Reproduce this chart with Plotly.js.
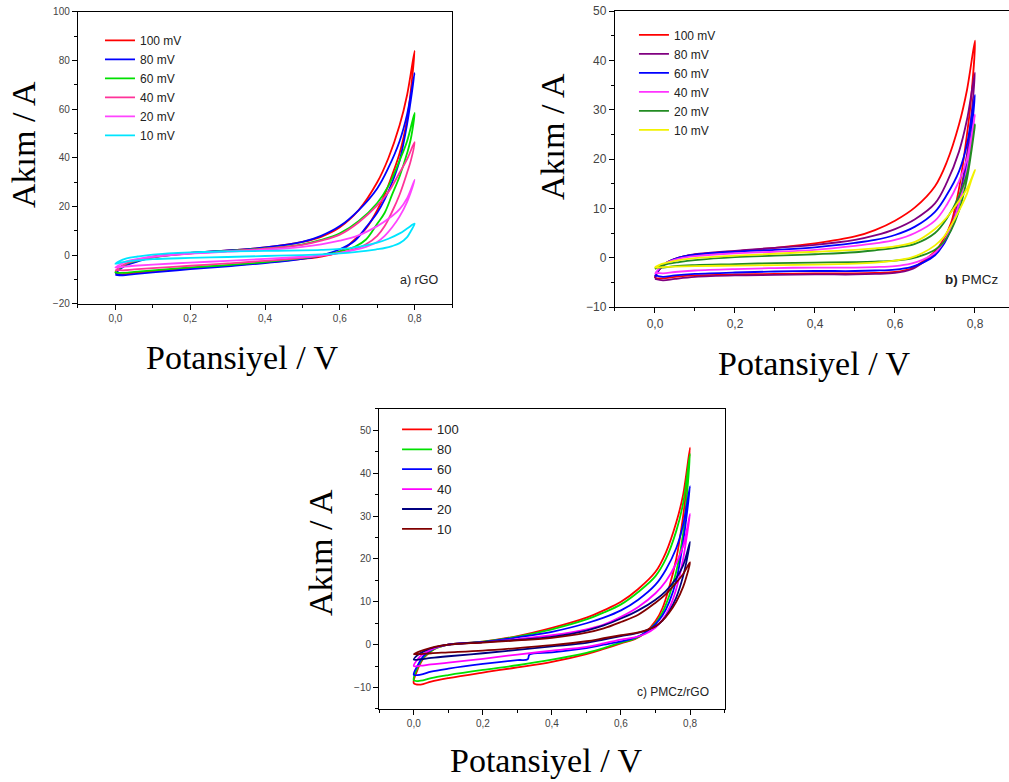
<!DOCTYPE html>
<html>
<head>
<meta charset="utf-8">
<script src="https://cdn.plot.ly/plotly-3.0.1.min.js"></script>
<style>html,body{margin:0;padding:0;background:#fff;}#chart{width:1009px;height:782px;}</style>
</head>
<body>
<div id="chart"></div>
<script>
// Potential grids (V): forward sweep and reverse sweep
const V_FWD = [0,0.01,0.03,0.06,0.1,0.2,0.3,0.4,0.5,0.55,0.6,0.65,0.7,0.73,0.76,0.78,0.8];
const V_REV = [0.79,0.78,0.76,0.74,0.72,0.7,0.67,0.64,0.6,0.55,0.5,0.4,0.3,0.2,0.1,0.05,0.02,0];
const V_REV_C60 = [0.79,0.78,0.76,0.74,0.72,0.7,0.67,0.64,0.6,0.55,0.5,0.4,0.335,0.33,0.3,0.2,0.1,0.05,0.02,0];

// Panel a) rGO
const A_LABELS = ['100 mV','80 mV','60 mV','40 mV','20 mV','10 mV'];
const A_FWD_100 = [-7,-5.5,-3.5,-2,-0.5,1.0,2.0,3.2,5.5,7.6,11.5,18.5,30,40,53.5,66,84];
const A_REV_100 = [68,56,42,33,25,18.5,11,6.5,1.5,-0.5,-1.5,-3,-4.2,-5.3,-6.5,-7.2,-7.8,-7.5];
const A_FWD_80 = [-7.5,-6,-4,-2.5,-0.8,1.0,2.0,3.2,5.5,8,12,18.5,27.5,36,47,58,75];
const A_REV_80 = [64,54,39,30,23,17.5,11.5,6,2.5,0,-1.5,-3.2,-4.5,-5.7,-7,-7.7,-8.2,-8];
const A_FWD_60 = [-7,-5.5,-3.5,-2.2,-0.8,0.8,1.8,2.8,4.5,6.3,9,14,21.5,28.5,39,47,58.5];
const A_REV_60 = [48,42,32.5,25,17.5,13,6.5,3.5,1.5,0,-1.2,-2.8,-4,-5,-6.2,-6.8,-7.2,-7];
const A_FWD_40 = [-6.5,-5,-3.3,-2,-0.8,0.7,1.7,2.7,4.3,6,8.5,13.5,20.5,26,34,39.5,46.5];
const A_REV_40 = [39,34,25,18,12,8,4.5,2.5,1,-0.2,-1,-2.3,-3.3,-4.3,-5.3,-5.8,-6.2,-6];
const A_FWD_20 = [-5,-4,-2.5,-1.5,-0.5,0.7,1.5,2.3,3.5,4.5,6,8.2,12,15,19,23.5,31];
const A_REV_20 = [26,22,16,11.5,8,5.5,3.5,2.2,1,0,-0.6,-1.5,-2.3,-3,-3.8,-4.3,-4.7,-5];
const A_FWD_10 = [-3.5,-2.5,-1.3,-0.5,0.3,1.2,1.6,1.8,2.0,2.2,2.6,3.5,5.2,6.8,9,11,13];
const A_REV_10 = [10,7.5,5,3.8,3,2.5,1.8,1.3,0.8,0.4,0.1,-0.3,-0.7,-1.1,-1.6,-2.2,-2.8,-3.5];
const A_COLORS = ['#ff0000','#0000ff','#00e000','#ff3399','#ff44ff','#00e5ff'];

// Panel b) PMCz
const B_LABELS = ['100 mV','80 mV','60 mV','40 mV','20 mV','10 mV'];
const B_FWD_100 = [-4,-2.5,-1,0,0.6,1.3,2.0,2.9,4.3,5.6,7.5,10.2,14.5,19.5,27,34,44];
const B_REV_100 = [32,25,14,7,3.5,1.3,-0.7,-2.2,-2.9,-3.1,-3.2,-3.2,-3.3,-3.4,-3.6,-3.9,-4.2,-4];
const B_FWD_80 = [-4.2,-2.5,-1,0,0.7,1.4,2.0,2.6,3.6,4.5,5.8,7.8,11,15.3,21.5,28,37.5];
const B_REV_80 = [28,21,12,6,2.8,0.8,-1,-2.4,-3.1,-3.3,-3.4,-3.4,-3.5,-3.6,-3.9,-4.3,-4.6,-4.3];
const B_FWD_60 = [-3.8,-2.4,-1,0,0.6,1.2,1.6,2.1,3.0,3.6,4.6,6.3,9.3,12.8,17.5,23,33];
const B_REV_60 = [25,19,11,5.8,2.5,0.5,-1,-1.9,-2.4,-2.6,-2.7,-2.7,-2.8,-3,-3.3,-3.6,-3.9,-3.6];
const B_FWD_40 = [-3.3,-2.2,-1,-0.2,0.3,0.9,1.2,1.6,2.4,2.9,3.6,5.0,7.5,10.8,15.5,20,29];
const B_REV_40 = [23,18,11,6,3,1,-0.4,-1.2,-1.7,-1.9,-2.0,-2.0,-2.1,-2.3,-2.6,-2.9,-3.2,-3];
const B_FWD_20 = [-2.3,-1.8,-1.3,-0.9,-0.5,0.1,0.4,0.7,1.1,1.5,2.0,2.8,5,8,12.5,17,27];
const B_REV_20 = [21,16,9.5,5.5,3,1.6,0.5,-0.2,-0.6,-0.8,-0.9,-1.0,-1.1,-1.3,-1.5,-1.7,-2,-2];
const B_FWD_10 = [-2,-1.5,-1,-0.5,-0.1,0.4,0.8,1.2,1.6,1.9,2.3,3.2,5.8,8.2,11.5,14,17.8];
const B_REV_10 = [15.5,13,9.5,6.5,4,2.5,1,0,-0.6,-1,-1.2,-1.4,-1.5,-1.6,-1.7,-1.8,-1.9,-2];
const B_COLORS = ['#ff0000','#800080','#0000ff','#ff33ff','#228b22','#f2f200'];

// Panel c) PMCz/rGO
const C_LABELS = ['100','80','60','40','20','10'];
const C_FWD_100 = [-9,-6,-3,-1,0,0.7,2.0,3.9,6.3,8,10,13,17,21.5,28.5,35,46];
const C_REV_100 = [37,30,20,13.5,8.5,5.5,2.8,1.3,0.3,-1,-2.2,-4,-5.3,-6.5,-7.8,-8.6,-9.3,-9];
const C_FWD_80 = [-8.3,-5.5,-2.8,-1,0,0.7,1.9,3.6,5.9,7.5,9.4,12.3,16,20,26.5,33,44.5];
const C_REV_80 = [34,26,17,11.5,7.5,5,2.8,1.4,0.5,-0.8,-1.9,-3.5,-4.8,-5.9,-7.1,-7.8,-8.4,-8.3];
const C_FWD_60 = [-7,-5,-2.5,-0.8,0,0.6,1.7,3.0,5,6.3,8,10.5,14,17.5,22.5,28,37];
const C_REV_60 = [30,24,15,10,6.8,4.8,2.8,1.6,0.8,0,-0.8,-1.8,-2.3,-3.4,-3.6,-4.5,-5.6,-6.3,-7,-7];
const C_FWD_40 = [-5,-3.5,-2,-0.8,0,0.6,1.3,2.2,3.6,4.7,6.5,8.8,12,14.8,19,23,30.5];
const C_REV_40 = [25,20,13,8.5,5.8,4,2.5,1.7,1.2,0.3,-0.5,-1.4,-2.3,-3.3,-4.2,-4.6,-4.9,-5];
const C_FWD_20 = [-3.5,-2.5,-1.5,-0.6,0,0.6,1.1,1.8,3.3,4.5,6.1,8,10.5,12.5,15.5,18.5,24];
const C_REV_20 = [19.5,16,11,7.8,5.6,4.3,3.2,2.6,2,1.2,0.4,-0.4,-1.2,-2,-2.7,-3.1,-3.4,-3.5];
const C_FWD_10 = [-2.2,-1.8,-1.2,-0.5,0,0.5,1.0,1.6,2.8,3.8,5.3,7,9.8,11.8,14.5,16.5,19.2];
const C_REV_10 = [16,13.5,10,7.5,5.6,4.3,3.3,2.7,2.2,1.5,0.8,-0.1,-0.8,-1.4,-1.8,-2,-2.2,-2.2];
const C_COLORS = ['#ff0000','#00e000','#0000ff','#ff00ff','#000080','#800000'];

const X_TICKS = [0,0.2,0.4,0.6,0.8];
const X_TITLE = 'Potansiyel / V';
const Y_TITLE = 'Akım / A';
const PANEL_LABELS = ['a) rGO', '<b>b)</b> PMCz', 'c) PMCz/rGO'];

function loops(labels, fwd, rev, revGrids, colors, xa, ya, leg) {
  return labels.map((name, i) => ({
    type: 'scatter', mode: 'lines', name: name,
    x: V_FWD.concat(revGrids[i]), y: fwd[i].concat(rev[i]),
    xaxis: xa, yaxis: ya, legend: leg,
    line: {color: colors[i], width: 1.8, shape: 'spline', smoothing: 1}
  }));
}

const traces = [].concat(
  loops(A_LABELS, [A_FWD_100,A_FWD_80,A_FWD_60,A_FWD_40,A_FWD_20,A_FWD_10],
        [A_REV_100,A_REV_80,A_REV_60,A_REV_40,A_REV_20,A_REV_10],
        [V_REV,V_REV,V_REV,V_REV,V_REV,V_REV], A_COLORS, 'x', 'y', 'legend'),
  loops(B_LABELS, [B_FWD_100,B_FWD_80,B_FWD_60,B_FWD_40,B_FWD_20,B_FWD_10],
        [B_REV_100,B_REV_80,B_REV_60,B_REV_40,B_REV_20,B_REV_10],
        [V_REV,V_REV,V_REV,V_REV,V_REV,V_REV], B_COLORS, 'x2', 'y2', 'legend2'),
  loops(C_LABELS, [C_FWD_100,C_FWD_80,C_FWD_60,C_FWD_40,C_FWD_20,C_FWD_10],
        [C_REV_100,C_REV_80,C_REV_60,C_REV_40,C_REV_20,C_REV_10],
        [V_REV,V_REV,V_REV_C60,V_REV,V_REV,V_REV], C_COLORS, 'x3', 'y3', 'legend3')
);

const serif = 'Liberation Serif, Times New Roman, serif';
const sans = 'Arial, Liberation Sans, sans-serif';
function xax(domain, range, anchor, tickSize) {
  return {
    domain: domain, range: range, anchor: anchor,
    tickvals: X_TICKS, tickformat: '.1f',
    ticks: 'outside', ticklen: 5, tickwidth: 1, tickcolor: '#000',
    minor: {dtick: 0.1, tick0: 0, ticks: 'outside', ticklen: 3, tickcolor: '#000'},
    showline: true, linecolor: '#000', linewidth: 1.2, mirror: true,
    showgrid: false, zeroline: false,
    tickfont: {family: sans, size: tickSize, color: '#444'}
  };
}
function yax(domain, range, anchor, dtick, minor, tickSize, mirror) {
  return {
    domain: domain, range: range, anchor: anchor, dtick: dtick, tick0: 0,
    ticks: 'outside', ticklen: 5, tickwidth: 1, tickcolor: '#000',
    minor: {dtick: minor, ticks: 'outside', ticklen: 3, tickcolor: '#000'},
    showline: true, linecolor: '#000', linewidth: 1.2, mirror: mirror,
    showgrid: false, zeroline: false,
    tickfont: {family: sans, size: tickSize, color: '#444'}
  };
}
function leg(x, y, size) {
  return {x: x, y: y, xanchor: 'left', yanchor: 'top', bgcolor: 'rgba(0,0,0,0)',
          borderwidth: 0, tracegroupgap: 0, itemwidth: 30,
          font: {family: sans, size: size, color: '#222'}};
}
function title(text, x, y, angle) {
  return {text: text, xref: 'paper', yref: 'paper', x: x, y: y, xanchor: 'center', yanchor: 'middle',
          textangle: angle, showarrow: false, font: {family: serif, size: 34, color: '#000'}};
}
function label(text, x, y, size) {
  return {text: text, xref: 'paper', yref: 'paper', x: x, y: y, xanchor: 'right', yanchor: 'middle',
          showarrow: false, font: {family: sans, size: size, color: '#222'}};
}

const layout = {
  width: 1009, height: 782,
  margin: {l: 0, r: 0, t: 0, b: 0},
  paper_bgcolor: '#fff', plot_bgcolor: '#fff',
  separators: ', ',
  showlegend: true,
  xaxis: xax([0.0773, 0.448], [-0.1, 0.9], 'y', 10),
  yaxis: yax([0.6113, 0.9847], [-20, 100], 'x', 20, 10, 10, true),
  xaxis2: xax([0.6095, 1.0], [-0.1, 0.885], 'y2', 12),
  yaxis2: yax([0.6074, 0.9859], [-10, 50], 'x2', 10, 5, 12, false),
  xaxis3: xax([0.3759, 0.7181], [-0.1, 0.9], 'y3', 10),
  yaxis3: yax([0.0934, 0.477], [-15, 55], 'x3', 10, 5, 10, true),
  legend: leg(0.0991, 0.967, 12),
  legend2: leg(0.6283, 0.974, 12),
  legend3: leg(0.3935, 0.470, 13),
  annotations: [
    title(Y_TITLE, 0.0238, 0.8146, -90),
    title(X_TITLE, 0.2398, 0.5422, 0),
    title(Y_TITLE, 0.5471, 0.8248, -90),
    title(X_TITLE, 0.8067, 0.5358, 0),
    title(Y_TITLE, 0.3171, 0.2941, -90),
    title(X_TITLE, 0.5411, 0.0281, 0),
    label(PANEL_LABELS[0], 0.436, 0.642, 12.5),
    label(PANEL_LABELS[1], 0.992, 0.642, 13.5),
    label(PANEL_LABELS[2], 0.7047, 0.1151, 12)
  ]
};

Plotly.newPlot('chart', traces, layout, {displayModeBar: false, staticPlot: true});
</script>
</body>
</html>
